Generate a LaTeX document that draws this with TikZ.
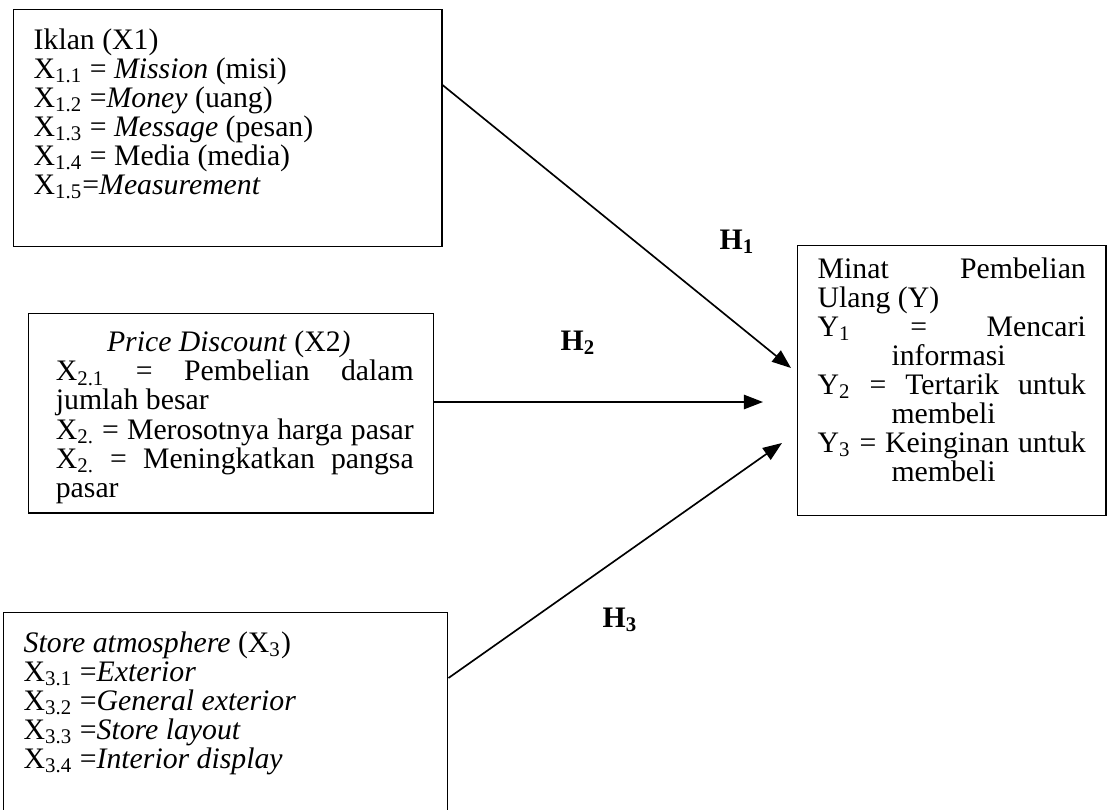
\documentclass[tikz,border=0pt]{standalone}
\usepackage{fontspec}
\setmainfont{Liberation Serif}
\usetikzlibrary{arrows.meta, calc}

\begin{document}
\begin{tikzpicture}[x=0.42pt, y=-0.42pt, font=\fontsize{12.5}{12.2}\selectfont]
    \tikzstyle{box} = [rectangle, draw=black, line width=0.6pt, anchor=north west, inner xsep=8.4pt, inner ysep=8pt]
    \tikzstyle{hyp} = [font=\fontsize{12.5}{12.2}\selectfont\bfseries]
    \tikzstyle{arrow} = [line width=0.7pt, -{Triangle[length=8pt, width=6pt]}]

    \useasboundingbox (0,0) rectangle (1107,809);

    \node (iklan) [box] at (13,9) {\parbox[t][83.5pt][t]{163pt}{%
        Iklan (X1)\\
        X\textsubscript{1.1} = \textit{Mission} (misi)\\
        X\textsubscript{1.2} =\textit{Money} (uang)\\
        X\textsubscript{1.3} = \textit{Message} (pesan)\\
        X\textsubscript{1.4} = Media (media)\\
        X\textsubscript{1.5}=\textit{Measurement}}};
    \node (discount) [box, inner ysep=7.35pt] at (28,313) {\hspace{3pt}\parbox[t][69pt][t]{150.3pt}{%
        \makebox[\linewidth]{\textit{Price Discount} (X2\textit{)}\hspace{5pt}}\\
        \makebox[\linewidth][s]{X\textsubscript{2.1} = Pembelian dalam}\\
        jumlah besar\\
        \makebox[\linewidth][s]{X\textsubscript{2.} = Merosotnya harga pasar}\\
        \makebox[\linewidth][s]{X\textsubscript{2.} = Meningkatkan pangsa}\\
        pasar}};
    \node (store) [box] at (3,612) {\parbox[t][71.4pt][t]{169.7pt}{%
        \textit{Store atmosphere} (X\textsubscript{3})\\
        X\textsubscript{3.1} =\textit{Exterior}\\
        X\textsubscript{3.2} =\textit{General exterior}\\
        X\textsubscript{3.3} =\textit{Store layout}\\
        X\textsubscript{3.4} =\textit{Interior display}}};
    \node (minat) [box, inner ysep=5pt] at (797,245) {\parbox[t][103.4pt][t]{112.6pt}{%
        \makebox[\linewidth][s]{Minat Pembelian}\\
        Ulang (Y)\\
        \makebox[\linewidth][s]{Y\textsubscript{1} = Mencari}\\
        \hspace*{31pt}informasi\\
        \makebox[\linewidth][s]{Y\textsubscript{2} = Tertarik untuk}\\
        \hspace*{31pt}membeli\\
        \makebox[\linewidth][s]{Y\textsubscript{3} = Keinginan untuk}\\
        \hspace*{31pt}membeli}};

    \node (h1) [hyp] at (737,242) {H\textsubscript{1}};
    \node (h2) [hyp] at (578,343) {H\textsubscript{2}};
    \node (h3) [hyp] at (620,620) {H\textsubscript{3}};

    \coordinate (t1) at (791,368);
    \coordinate (t2) at (763,402);
    \coordinate (t3) at (782,443);

    \draw [arrow] ($(iklan.north east)+(0,76)$) -- (t1);
    \draw [arrow] ($(discount.north east)+(0,89)$) -- (t2);
    \draw [arrow] ($(store.north east)+(0,66)$) -- (t3);
\end{tikzpicture}
\end{document}
